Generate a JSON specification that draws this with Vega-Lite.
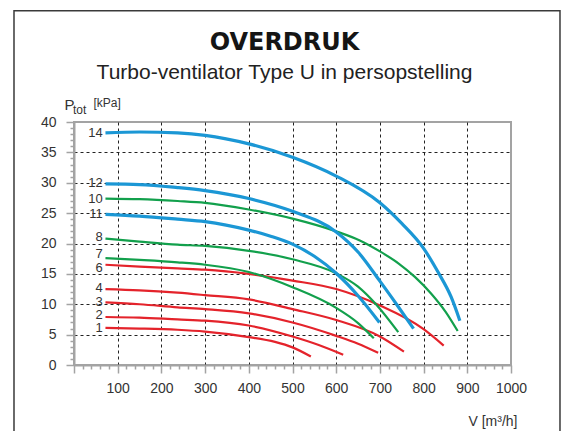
{
  "$schema": "https://vega.github.io/schema/vega-lite/v6.json",
  "width": 437,
  "height": 243,
  "autosize": {"type": "none"},
  "padding": {"left": 74, "top": 122, "right": 63, "bottom": 66},
  "background": "white",
  "title": {
    "text": "OVERDRUK",
    "subtitle": "Turbo-ventilator Type U in persopstelling",
    "anchor": "middle",
    "frame": "group",
    "dx": -8,
    "offset": -73,
    "font": "DejaVu Sans",
    "fontSize": 24,
    "fontWeight": "bold",
    "color": "#151515",
    "subtitleFont": "Liberation Sans",
    "subtitleFontSize": 21,
    "subtitleColor": "#222222",
    "subtitlePadding": 7
  },
  "datasets": {
    "curves": [
      {"c": "1", "v": 72, "p": 6.1}, {"c": "1", "v": 150, "p": 6.0}, {"c": "1", "v": 237, "p": 5.8}, {"c": "1", "v": 300, "p": 5.5}, {"c": "1", "v": 400, "p": 4.6}, {"c": "1", "v": 460, "p": 3.8}, {"c": "1", "v": 500, "p": 2.9}, {"c": "1", "v": 542, "p": 1.4},
      {"c": "2", "v": 72, "p": 7.9}, {"c": "2", "v": 150, "p": 7.8}, {"c": "2", "v": 237, "p": 7.5}, {"c": "2", "v": 300, "p": 7.3}, {"c": "2", "v": 400, "p": 6.5}, {"c": "2", "v": 500, "p": 4.7}, {"c": "2", "v": 560, "p": 3.3}, {"c": "2", "v": 616, "p": 1.7},
      {"c": "3", "v": 72, "p": 10.3}, {"c": "3", "v": 150, "p": 10.0}, {"c": "3", "v": 237, "p": 9.5}, {"c": "3", "v": 300, "p": 9.2}, {"c": "3", "v": 400, "p": 8.5}, {"c": "3", "v": 500, "p": 7.0}, {"c": "3", "v": 600, "p": 4.8}, {"c": "3", "v": 650, "p": 3.5}, {"c": "3", "v": 696, "p": 2.0},
      {"c": "4", "v": 72, "p": 12.5}, {"c": "4", "v": 150, "p": 12.3}, {"c": "4", "v": 237, "p": 11.9}, {"c": "4", "v": 300, "p": 11.5}, {"c": "4", "v": 400, "p": 10.8}, {"c": "4", "v": 500, "p": 9.2}, {"c": "4", "v": 600, "p": 7.4}, {"c": "4", "v": 700, "p": 4.7}, {"c": "4", "v": 755, "p": 2.2},
      {"c": "6", "v": 72, "p": 16.5}, {"c": "6", "v": 150, "p": 16.2}, {"c": "6", "v": 237, "p": 15.9}, {"c": "6", "v": 300, "p": 15.7}, {"c": "6", "v": 400, "p": 15.0}, {"c": "6", "v": 500, "p": 13.9}, {"c": "6", "v": 600, "p": 12.5}, {"c": "6", "v": 700, "p": 9.8}, {"c": "6", "v": 800, "p": 5.9}, {"c": "6", "v": 846, "p": 3.2},
      {"c": "7", "v": 72, "p": 17.6}, {"c": "7", "v": 150, "p": 17.3}, {"c": "7", "v": 237, "p": 16.9}, {"c": "7", "v": 300, "p": 16.5}, {"c": "7", "v": 400, "p": 15.3}, {"c": "7", "v": 500, "p": 12.8}, {"c": "7", "v": 600, "p": 9.4}, {"c": "7", "v": 650, "p": 6.9}, {"c": "7", "v": 686, "p": 4.4},
      {"c": "8", "v": 72, "p": 20.8}, {"c": "8", "v": 150, "p": 20.3}, {"c": "8", "v": 237, "p": 19.8}, {"c": "8", "v": 300, "p": 19.6}, {"c": "8", "v": 400, "p": 18.8}, {"c": "8", "v": 500, "p": 17.4}, {"c": "8", "v": 600, "p": 15.1}, {"c": "8", "v": 650, "p": 12.9}, {"c": "8", "v": 691, "p": 10.0}, {"c": "8", "v": 742, "p": 5.4},
      {"c": "10", "v": 72, "p": 27.4}, {"c": "10", "v": 150, "p": 27.3}, {"c": "10", "v": 237, "p": 27.0}, {"c": "10", "v": 300, "p": 26.7}, {"c": "10", "v": 400, "p": 25.6}, {"c": "10", "v": 500, "p": 24.1}, {"c": "10", "v": 600, "p": 22.0}, {"c": "10", "v": 654, "p": 20.5}, {"c": "10", "v": 700, "p": 18.7}, {"c": "10", "v": 743, "p": 16.7}, {"c": "10", "v": 780, "p": 14.5}, {"c": "10", "v": 818, "p": 11.7}, {"c": "10", "v": 850, "p": 8.8}, {"c": "10", "v": 878, "p": 5.6},
      {"c": "11", "v": 72, "p": 24.8}, {"c": "11", "v": 150, "p": 24.5}, {"c": "11", "v": 237, "p": 24.0}, {"c": "11", "v": 300, "p": 23.6}, {"c": "11", "v": 400, "p": 22.2}, {"c": "11", "v": 450, "p": 21.2}, {"c": "11", "v": 500, "p": 19.9}, {"c": "11", "v": 550, "p": 17.9}, {"c": "11", "v": 600, "p": 15.1}, {"c": "11", "v": 650, "p": 11.4}, {"c": "11", "v": 699, "p": 7.0},
      {"c": "12", "v": 72, "p": 29.8}, {"c": "12", "v": 150, "p": 29.7}, {"c": "12", "v": 237, "p": 29.2}, {"c": "12", "v": 300, "p": 28.7}, {"c": "12", "v": 400, "p": 27.4}, {"c": "12", "v": 500, "p": 25.3}, {"c": "12", "v": 600, "p": 21.9}, {"c": "12", "v": 650, "p": 18.6}, {"c": "12", "v": 700, "p": 13.8}, {"c": "12", "v": 740, "p": 9.8}, {"c": "12", "v": 777, "p": 6.0},
      {"c": "14", "v": 72, "p": 38.2}, {"c": "14", "v": 150, "p": 38.35}, {"c": "14", "v": 237, "p": 38.2}, {"c": "14", "v": 300, "p": 37.8}, {"c": "14", "v": 400, "p": 36.4}, {"c": "14", "v": 500, "p": 34.2}, {"c": "14", "v": 600, "p": 31.1}, {"c": "14", "v": 700, "p": 26.7}, {"c": "14", "v": 750, "p": 23.3}, {"c": "14", "v": 800, "p": 19.2}, {"c": "14", "v": 833, "p": 15.3}, {"c": "14", "v": 863, "p": 11.2}, {"c": "14", "v": 883, "p": 7.3}
    ],
    "labels": [
      {"c": "14", "v": 66, "p": 38.2},
      {"c": "12", "v": 66, "p": 29.9},
      {"c": "10", "v": 66, "p": 27.3},
      {"c": "11", "v": 66, "p": 24.9},
      {"c": "8", "v": 66, "p": 21.1},
      {"c": "7", "v": 66, "p": 18.3},
      {"c": "6", "v": 66, "p": 15.9},
      {"c": "4", "v": 66, "p": 12.6},
      {"c": "3", "v": 66, "p": 10.3},
      {"c": "2", "v": 66, "p": 8.2},
      {"c": "1", "v": 66, "p": 6.1}
    ]
  },
  "layer": [
    {
      "data": {"values": [{}]},
      "mark": {"type": "rect", "fillOpacity": 0, "stroke": "#3a3a3a", "strokeWidth": 1.5, "clip": false},
      "encoding": {
        "x": {"datum": -137.3, "type": "quantitative", "scale": {"domain": [0, 1000], "nice": false, "zero": false}, "axis": null},
        "x2": {"datum": 1112.1},
        "y": {"datum": 58.3, "type": "quantitative", "scale": {"domain": [0, 40], "nice": false, "zero": false},
          "axis": {"orient": "left", "title": "[kPa]", "domain": false, "ticks": false, "labels": false, "grid": false,
            "titleX": 19, "titleY": -16, "titleAngle": 0, "titleAlign": "left", "titleBaseline": "alphabetic",
            "titleFontSize": 12, "titleFontWeight": "normal", "titleColor": "#333333", "titleFont": "Liberation Sans"}},
        "y2": {"datum": -15}
      }
    },
    {
      "data": {"name": "curves"},
      "mark": {"type": "line", "interpolate": "monotone", "strokeCap": "butt"},
      "encoding": {
        "x": {"field": "v", "type": "quantitative", "scale": {"domain": [0, 1000], "nice": false, "zero": false},
          "axis": {
            "orient": "bottom",
            "title": "V [m³/h]",
            "format": "d",
            "values": [0,20,40,60,80,100,120,140,160,180,200,220,240,260,280,300,320,340,360,380,400,420,440,460,480,500,520,540,560,580,600,620,640,660,680,700,720,740,760,780,800,820,840,860,880,900,920,940,960,980,1000],
            "tickSize": {"condition": {"test": "datum.value % 100 === 0", "value": 8}, "value": 4},
            "labelExpr": "datum.value % 100 === 0 && datum.value > 0 ? datum.label : ''",
            "labelOverlap": false,
            "labelFlush": false,
            "labelPadding": 8,
            "labelFontSize": 14,
            "labelColor": "#333333",
            "labelFont": "Liberation Sans",
            "grid": true,
            "gridOpacity": {"condition": {"test": "datum.value % 100 === 0 && datum.value > 0 && datum.value < 1000", "value": 1}, "value": 0},
            "gridColor": "#222222",
            "gridDash": [3, 3],
            "gridWidth": 1,
            "domainColor": "#a3a3a3",
            "domainWidth": 2,
            "tickColor": "#a3a3a3",
            "tickWidth": 1.5,
            "titleX": 443,
            "titleY": 60,
            "titleAlign": "right",
            "titleBaseline": "alphabetic",
            "titleFontSize": 14,
            "titleFontWeight": "normal",
            "titleColor": "#333333",
            "titleFont": "Liberation Sans"
          }},
        "y": {"field": "p", "type": "quantitative", "scale": {"domain": [0, 40], "nice": false, "zero": false},
          "axis": {
            "orient": "left",
            "title": "P",
            "values": [0,1,2,3,4,5,6,7,8,9,10,11,12,13,14,15,16,17,18,19,20,21,22,23,24,25,26,27,28,29,30,31,32,33,34,35,36,37,38,39,40],
            "tickSize": {"condition": {"test": "datum.value % 5 === 0", "value": 8}, "value": 4},
            "labelExpr": "datum.value % 5 === 0 ? datum.label : ''",
            "labelOverlap": false,
            "labelFlush": false,
            "labelPadding": 10,
            "labelFontSize": 14,
            "labelColor": "#333333",
            "labelFont": "Liberation Sans",
            "grid": true,
            "gridOpacity": {"condition": {"test": "datum.value % 5 === 0 && datum.value > 0 && datum.value < 40", "value": 1}, "value": 0},
            "gridColor": "#222222",
            "gridDash": [3, 3],
            "gridWidth": 1,
            "domainColor": "#a3a3a3",
            "domainWidth": 2,
            "tickColor": "#a3a3a3",
            "tickWidth": 1.5,
            "titleX": -10,
            "titleY": -13,
            "titleAngle": 0,
            "titleAlign": "left",
            "titleBaseline": "alphabetic",
            "titleFontSize": 15,
            "titleFontWeight": "normal",
            "titleColor": "#333333",
            "titleFont": "Liberation Sans"
          }},
        "color": {"field": "c", "type": "nominal",
          "scale": {"domain": ["1","2","3","4","6","7","8","10","11","12","14"],
            "range": ["#e4232b","#e4232b","#e4232b","#e4232b","#e4232b","#12a04c","#12a04c","#12a04c","#1b97d5","#1b97d5","#1b97d5"]},
          "legend": null},
        "strokeWidth": {"condition": {"test": "indexof(['11','12','14'], datum.c) >= 0", "value": 3.2}, "value": 2.2},
        "order": {"field": "v", "type": "quantitative"}
      }
    },
    {
      "data": {"name": "labels"},
      "mark": {"type": "text", "align": "right", "baseline": "middle", "fontSize": 13, "font": "Liberation Sans", "color": "#333333"},
      "encoding": {
        "x": {"field": "v", "type": "quantitative", "scale": {"domain": [0, 1000], "nice": false, "zero": false}, "axis": null},
        "y": {"field": "p", "type": "quantitative", "scale": {"domain": [0, 40], "nice": false, "zero": false},
          "axis": {"orient": "left", "title": "tot", "domain": false, "ticks": false, "labels": false, "grid": false,
            "titleX": -1.5, "titleY": -9, "titleAngle": 0, "titleAlign": "left", "titleBaseline": "alphabetic",
            "titleFontSize": 12, "titleFontWeight": "normal", "titleColor": "#333333", "titleFont": "Liberation Sans"}},
        "text": {"field": "c", "type": "nominal"}
      }
    }
  ],
  "resolve": {"axis": {"x": "independent", "y": "independent"}},
  "config": {
    "view": {"stroke": "#a3a3a3", "strokeWidth": 2},
    "font": "Liberation Sans"
  }
}
